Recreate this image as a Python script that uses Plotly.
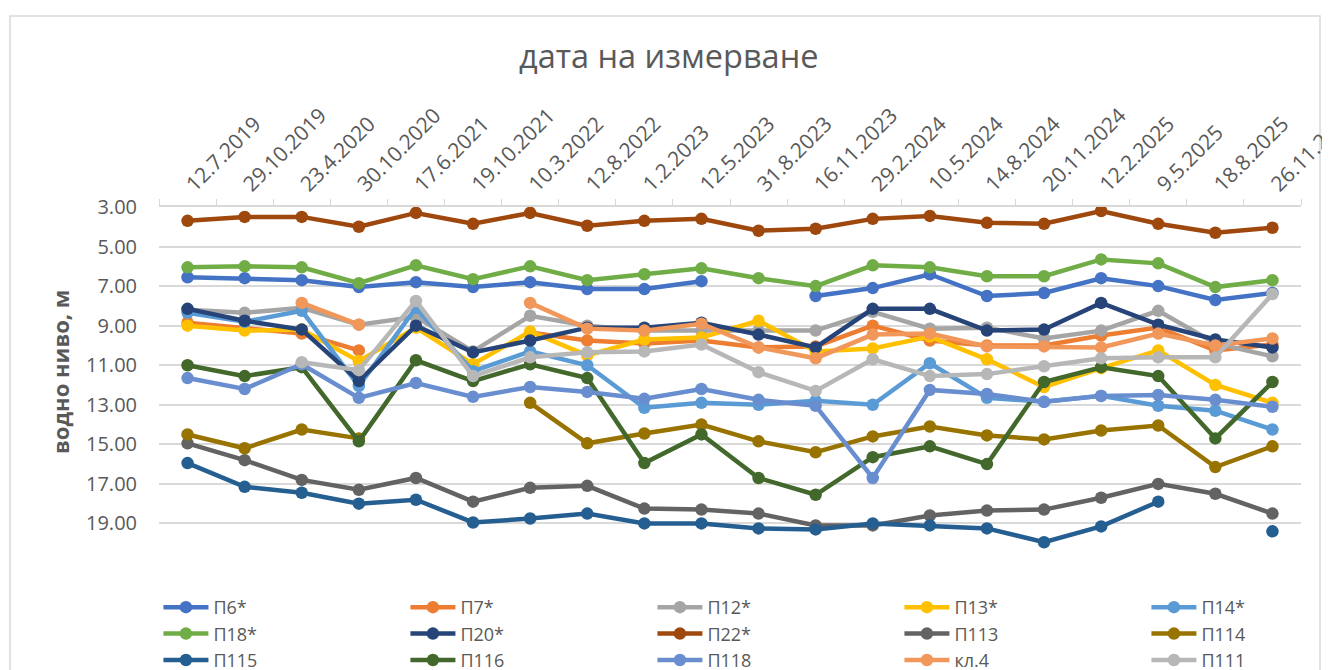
import plotly.graph_objects as go

dates = ["12.7.2019", "29.10.2019", "23.4.2020", "30.10.2020", "17.6.2021", "19.10.2021",
         "10.3.2022", "12.8.2022", "1.2.2023", "12.5.2023", "31.8.2023", "16.11.2023",
         "29.2.2024", "10.5.2024", "14.8.2024", "20.11.2024", "12.2.2025", "9.5.2025",
         "18.8.2025", "26.11.2025"]

p6 = [6.55, 6.6, 6.7, 7.05, 6.8, 7.05, 6.8, 7.15, 7.15, 6.75, None, 7.5, 7.1, 6.4, 7.5, 7.35, 6.6, 7.0, 7.7, 7.35]
p7 = [8.85, 9.15, 9.4, 10.25, None, None, 9.35, 9.75, 9.9, 9.75, 10.1, 10.05, 9.0, 9.75, 10.0, 10.0, 9.5, 9.1, 10.25, 9.95]
p12 = [8.2, 8.35, 8.1, 8.95, 8.55, 10.3, 8.5, 9.0, 9.25, 9.25, 9.25, 9.25, 8.3, 9.15, 9.1, 9.65, 9.25, 8.25, 9.9, 10.55]
p13 = [9.0, 9.25, 9.2, 10.8, 9.1, 10.95, 9.3, 10.5, 9.7, 9.6, 8.75, 10.3, 10.15, 9.55, 10.7, 12.1, 11.15, 10.25, 12.0, 12.9]
p14 = [8.35, 8.8, 8.25, 12.05, 8.1, 11.3, 10.3, 11.0, 13.15, 12.9, 13.0, 12.8, 13.0, 10.9, 12.65, 12.85, 12.55, 13.05, 13.3, 14.25]
p18 = [6.05, 6.0, 6.05, 6.85, 5.95, 6.65, 6.0, 6.7, 6.4, 6.1, 6.6, 7.0, 5.95, 6.05, 6.5, 6.5, 5.65, 5.85, 7.05, 6.7]
p20 = [8.15, 8.75, 9.2, 11.8, 9.0, 10.35, 9.75, 9.1, 9.1, 8.85, 9.45, 10.1, 8.15, 8.15, 9.25, 9.2, 7.85, 8.95, 9.7, 10.1]
p22 = [3.7, 3.5, 3.5, 4.0, 3.3, 3.85, 3.3, 3.95, 3.7, 3.6, 4.2, 4.1, 3.6, 3.45, 3.8, 3.85, 3.2, 3.85, 4.3, 4.05]
p113 = [14.95, 15.8, 16.8, 17.3, 16.7, 17.9, 17.2, 17.1, 18.25, 18.3, 18.5, 19.1, 19.1, 18.6, 18.35, 18.3, 17.7, 17.0, 17.5, 18.5]
p114 = [14.5, 15.2, 14.25, 14.7, None, None, 12.9, 14.95, 14.45, 14.0, 14.85, 15.4, 14.6, 14.1, 14.55, 14.75, 14.3, 14.05, 16.15, 15.1]
p115 = [15.95, 17.15, 17.45, 18.0, 17.8, 18.95, 18.75, 18.5, 19.0, 19.0, 19.25, 19.3, 19.0, 19.1, 19.25, 19.95, 19.15, 17.9, None, 19.4]
p116 = [11.0, 11.55, 11.1, 14.85, 10.75, 11.8, 10.95, 11.65, 15.95, 14.5, 16.7, 17.55, 15.65, 15.1, 16.0, 11.85, 11.1, 11.55, 14.7, 11.85]
p118 = [11.65, 12.2, 10.95, 12.65, 11.9, 12.6, 12.1, 12.35, 12.7, 12.2, 12.75, 13.05, 16.7, 12.25, 12.45, 12.85, 12.55, 12.5, 12.75, 13.1]
kl4 = [None, None, 7.85, 8.95, None, None, 7.85, 9.15, 9.25, 8.9, 10.1, 10.65, 9.45, 9.4, 10.05, 10.05, 10.1, 9.4, 10.0, 9.65]
p111 = [None, None, 10.85, 11.25, 7.75, 11.55, 10.6, 10.35, 10.3, 9.95, 11.35, 12.3, 10.7, 11.55, 11.45, 11.05, 10.65, 10.6, 10.6, 7.4]

names = ["П6*", "П7*", "П12*", "П13*", "П14*", "П18*", "П20*", "П22*",
         "П113", "П114", "П115", "П116", "П118", "кл.4", "П111"]
series = [p6, p7, p12, p13, p14, p18, p20, p22, p113, p114, p115, p116, p118, kl4, p111]
colors = ["#4472C4", "#ED7D31", "#A5A5A5", "#FFC000", "#5B9BD5", "#70AD47", "#264478", "#9E480E",
          "#636363", "#997300", "#255E91", "#43682B", "#698ED0", "#F1975A", "#B7B7B7"]

y_ticks = [3, 5, 7, 9, 11, 13, 15, 17, 19]

FONT = "Open Sans"
TXT = "#595959"

W, H = 1330, 670
OFF = 8  # page body margin
L, T = 159 - OFF, 207 - OFF
PW, PH = 1142, 356
R, B = W - L - PW, H - T - PH


def sx(x):
    return (x - OFF - L) / PW


def sy(y):
    return (H - B - (y - OFF)) / PH


fig = go.Figure()
for name, vals, col in zip(names, series, colors):
    fig.add_trace(go.Scatter(
        x=dates, y=vals, name=name, mode="lines+markers",
        line=dict(color=col, width=4.5),
        marker=dict(color=col, size=12.5),
        connectgaps=False,
    ))

fig.update_layout(
    width=W, height=H,
    paper_bgcolor="white", plot_bgcolor="white",
    margin=dict(l=L, r=R, t=T, b=B, autoexpand=False),
    font=dict(family=FONT, color=TXT),
    showlegend=True,
    legend=dict(
        orientation="h", xref="paper", yref="paper",
        x=-0.0005, y=sy(589), xanchor="left", yanchor="top",
        entrywidth=187, entrywidthmode="pixels", itemwidth=45,
        font=dict(family=FONT, size=18, color=TXT),
        traceorder="normal", bgcolor="rgba(0,0,0,0)",
    ),
    xaxis=dict(
        type="category", side="top", tickson="boundaries",
        showline=True, linecolor="#d9d9d9", linewidth=1.5,
        ticks="outside", ticklen=6, tickcolor="#d9d9d9",
        showgrid=False, tickangle=-45, automargin=False,
        tickfont=dict(family=FONT, size=21, color=TXT),
        ticklabelstandoff=1,
        range=[-0.5, len(dates) - 0.5],
    ),
    yaxis=dict(
        range=[21, 3], tickvals=y_ticks, tickformat=".2f",
        showgrid=True, gridcolor="#d9d9d9", gridwidth=1.5,
        zeroline=False, showline=False, automargin=False,
        tickfont=dict(family=FONT, size=20, color=TXT),
        ticklabelstandoff=21,
    ),
    annotations=[
        dict(text="дата на измерване", xref="paper", yref="paper",
             x=sx(668), y=sy(55), xanchor="center", yanchor="middle",
             showarrow=False, font=dict(family=FONT, size=32.5, color=TXT)),
        dict(text="<b>водно ниво, м</b>", xref="paper", yref="paper",
             x=sx(60), y=sy(372), xanchor="center", yanchor="middle",
             textangle=-90, showarrow=False,
             font=dict(family=FONT, size=22, color=TXT)),
    ],
    shapes=[
        dict(type="rect", xref="paper", yref="paper",
             x0=sx(10), x1=sx(1320), y0=sy(720), y1=sy(16),
             line=dict(color="#d9d9d9", width=1.5), fillcolor="rgba(0,0,0,0)", layer="below"),
    ],
)

fig.write_html("out.html")
